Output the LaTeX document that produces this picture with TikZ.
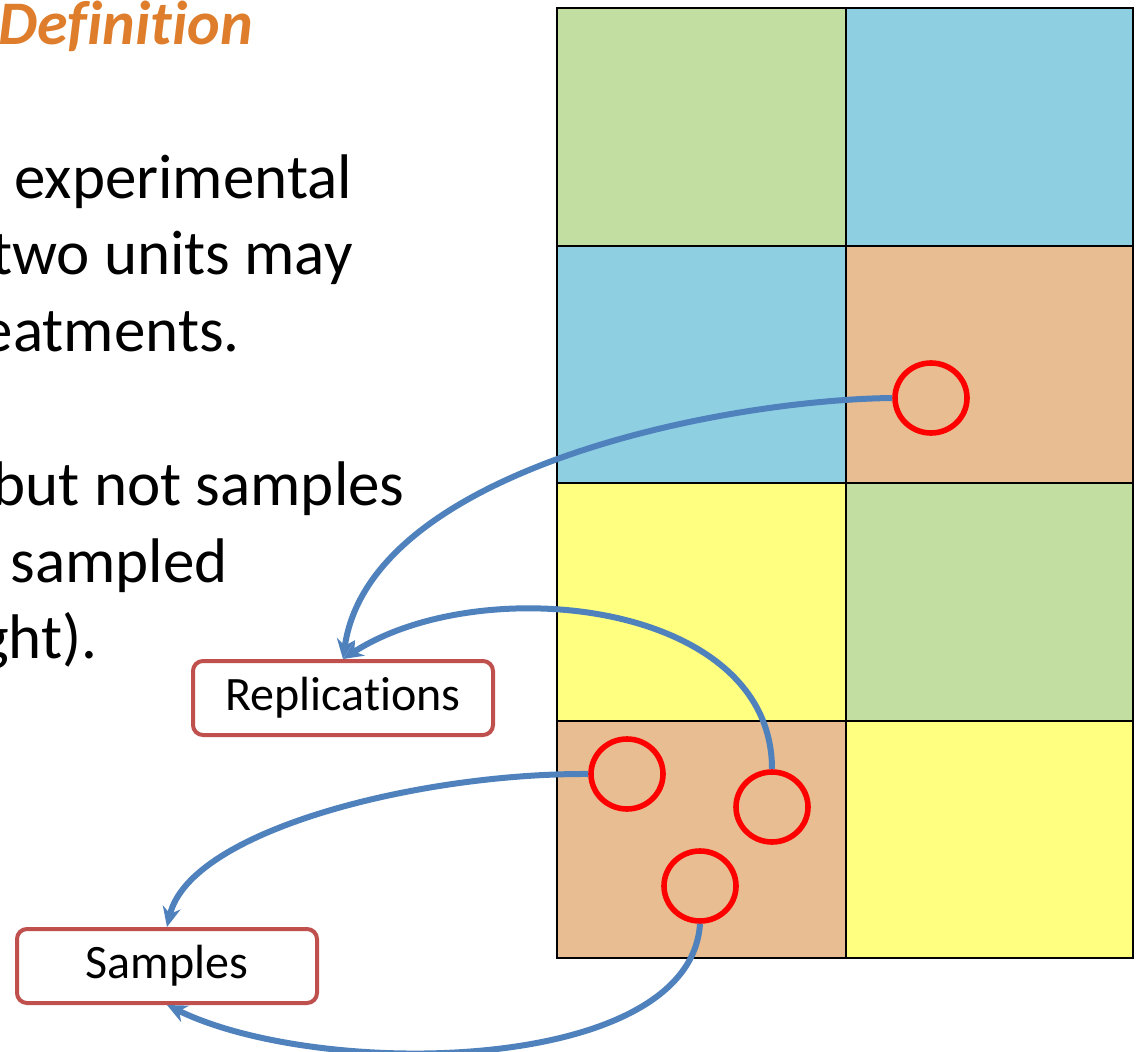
\documentclass[tikz,border=0pt]{standalone}
\usepackage{fontspec}
\setmainfont{Carlito}[Ligatures=NoCommon]
\usetikzlibrary{arrows.meta,shapes.geometric}

\definecolor{cellgreen}{HTML}{C2DEA1}
\definecolor{cellblue}{HTML}{8ECFE2}
\definecolor{cellorange}{HTML}{E8BD91}
\definecolor{cellyellow}{HTML}{FFFF80}
\definecolor{titleorange}{HTML}{DE7E2C}
\definecolor{linkblue}{HTML}{4F81BD}
\definecolor{boxred}{HTML}{C0504D}

\begin{document}
\begin{tikzpicture}[x=0.5pt,y=-0.5pt,>=Stealth,
    cell/.style={draw=black,line width=1pt},
    spot/.style={draw=red,line width=2.8pt,ellipse,minimum width=36pt,minimum height=35pt,inner sep=0pt},
    label box/.style={draw=boxred,line width=2pt,rounded corners=5pt,fill=white,minimum width=150pt,minimum height=37pt,font=\fontsize{24}{28}\selectfont},
    link/.style={draw=linkblue,line width=3pt,-{Stealth[length=10pt,width=9pt]}},
    body/.style={inner sep=0pt,font=\fontsize{31.5}{38}\selectfont}]
    \useasboundingbox (0,0) rectangle (1138,1052);
    \clip (0,0) rectangle (1138,1052);
    % text on the left
    \node[anchor=base west,inner sep=0pt,text=titleorange,font=\fontsize{31}{36}\selectfont\bfseries\itshape] (title) at (-2,45) {Definition};
    \node[body,anchor=base west] (l1) at (14,199) {experimental};
    \node[body,anchor=base east] (l2) at (353,275) {two units may};
    \node[body,anchor=base east] (l3) at (240,352) {eatments.};
    \node[body,anchor=base east] (l4) at (405,505) {but not samples};
    \node[body,anchor=base west] (l5) at (10,582) {sampled};
    \node[body,anchor=base east] (l6) at (98,658) {ght).};
    % grid of plots
    \draw[cell,fill=cellgreen]  (557,8)   rectangle (846,246);
    \draw[cell,fill=cellblue]   (846,8)   rectangle (1133,246);
    \draw[cell,fill=cellblue]   (557,246) rectangle (846,483);
    \draw[cell,fill=cellorange] (846,246) rectangle (1133,483);
    \draw[cell,fill=cellyellow] (557,483) rectangle (846,721);
    \draw[cell,fill=cellgreen]  (846,483) rectangle (1133,721);
    \draw[cell,fill=cellorange] (557,721) rectangle (846,958);
    \draw[cell,fill=cellyellow] (846,721) rectangle (1133,958);
    % sampled spots
    \node[spot] (s1) at (931,398) {};
    \node[spot] (s2) at (627,774) {};
    \node[spot] (s3) at (772,807) {};
    \node[spot] (s4) at (700,886) {};
    % labels
    \node[label box] (rep) at (343,698) {Replications};
    \node[label box] (smp) at (167,966) {Samples};
    % connectors
    \draw[link] (s1.west) .. controls (720,400) and (370,470) .. (rep.north);
    \draw[link] (s3.north) .. controls (772,600) and (480,570) .. (rep.north);
    \draw[link] (s2.west) .. controls (420,773) and (190,830) .. (smp.north);
    \draw[link] (s4.south) .. controls (690,1075) and (320,1080) .. (smp.south);
\end{tikzpicture}
\end{document}
